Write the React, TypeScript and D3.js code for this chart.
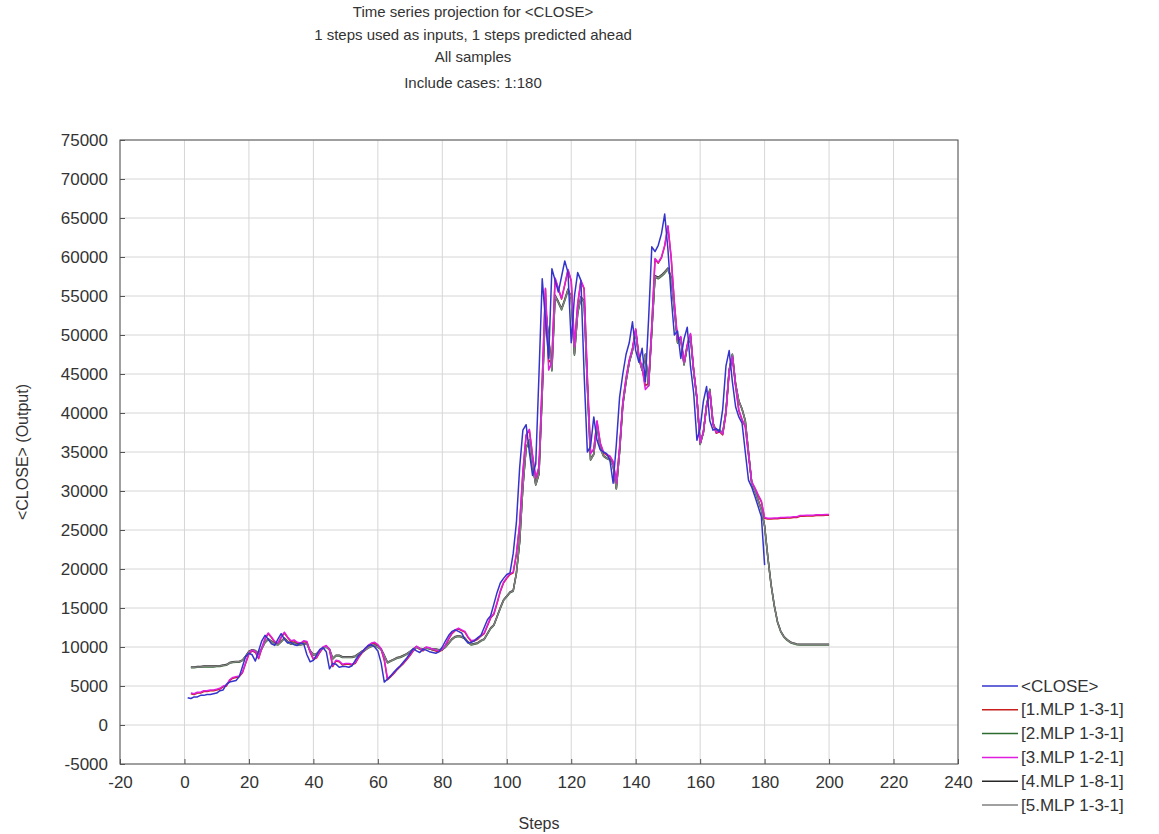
import React, { useRef, useEffect } from "react";
import * as d3 from "d3";

// observed series, step 1..180
const closeValues = [
  3500, 3400, 3600, 3600, 3800, 3800, 3900, 3900, 4000, 4100,
  4400, 4500, 5200, 5500, 5600, 5700, 6200, 7500, 8800, 9200,
  9000, 8200, 9500, 10800, 11500, 11000, 10400, 10200, 11000, 11700,
  11000, 10500, 10600, 10300, 10200, 10500, 10400, 9000, 8100, 8300,
  9000, 9700, 9900, 9400, 7200, 7900, 7800, 7400, 7500, 7500,
  7400, 7600, 8300, 8900, 9300, 9800, 10200, 10300, 10000, 9500,
  8000, 5500, 5900, 6300, 6800, 7200, 7600, 8100, 8600, 9200,
  9800, 9500, 9300, 9700, 9600, 9400, 9300, 9200, 9400, 10000,
  10800, 11500, 12000, 12200, 12000, 11800, 11000, 10500, 10600, 10800,
  11200, 11500, 12500, 13500, 14000, 15500, 17000, 18200, 18800, 19300,
  19500, 22000, 26000, 33000, 37800, 38500, 35000, 32000, 33500, 45000,
  57200, 52000, 47000, 58500, 57000, 55500, 57500, 59500, 58000, 49000,
  55000, 58000, 57000, 45000, 35000, 35700, 39500, 36500, 35300, 35000,
  34800, 34000, 31000, 36000, 42000, 45000, 47500, 49000, 51700, 48000,
  46500, 48300, 44000, 52000, 61300, 60700, 61500, 63000, 65500, 61000,
  55000, 50000, 50500, 47000, 49500, 51000, 46000, 42500, 36500, 38000,
  41500, 43400, 39000, 37800, 38000, 37600, 40500, 46000, 48000, 44000,
  40800, 39500, 38700, 35000, 31400, 30500, 29300, 28000, 26700, 20500,
];

// model outputs, step 2..200
const mlp1Values = [
  4000, 3900, 4100, 4100, 4300, 4300, 4400, 4400, 4500, 4600,
  4900, 5000, 5700, 6000, 6100, 6200, 6700, 7900, 9100, 9500,
  9300, 8500, 9800, 11000, 11700, 11200, 10600, 10400, 11200, 11800,
  11200, 10700, 10800, 10500, 10400, 10700, 10600, 9300, 8400, 8600,
  9300, 9900, 10100, 9600, 7500, 8200, 8100, 7700, 7800, 7800,
  7700, 7900, 8600, 9200, 9600, 10100, 10400, 10500, 10200, 9700,
  8300, 5800, 6200, 6600, 7100, 7500, 7900, 8400, 8900, 9500,
  10000, 9700, 9500, 9900, 9800, 9600, 9500, 9400, 9600, 10200,
  11000, 11700, 12100, 12300, 12100, 11900, 11200, 10700, 10800, 11000,
  11400, 11700, 12700, 13700, 14200, 15600, 17100, 18200, 18800, 19300,
  19500, 21900, 25700, 32400, 37100, 37800, 34500, 31600, 33000, 44100,
  55900, 46500, 47000, 57200, 55900, 54600, 56400, 58300, 56900, 48600,
  53900, 56900, 55900, 44600, 34900, 35300, 38900, 36100, 34900, 34600,
  34400, 33700, 31100, 35500, 41300, 44400, 46700, 48200, 50700, 47200,
  45700, 43500, 43800, 51200, 59700, 59200, 59900, 61400, 63900, 59900,
  54100, 49300, 49700, 46400, 48700, 50100, 45400, 41900, 36100, 37500,
  40900, 42600, 38500, 37400, 37600, 37200, 39900, 45200, 47100, 43400,
  40300, 39100, 38200, 34600, 31100, 30300, 29400, 28600, 26500, 26400,
  26400, 26450, 26450, 26500, 26500, 26550, 26550, 26600, 26600, 26750,
  26750, 26800, 26800, 26800, 26850, 26850, 26850, 26900, 26900,
];

const mlp2Values = [
  7350, 7350, 7400, 7400, 7450, 7450, 7450, 7450, 7500, 7500,
  7600, 7650, 7900, 8000, 8050, 8050, 8250, 8750, 9350, 9550,
  9450, 9050, 9750, 10550, 10950, 10650, 10350, 10250, 10650, 11050,
  10650, 10350, 10450, 10250, 10250, 10350, 10350, 9450, 8950, 9050,
  9450, 9850, 9950, 9650, 8450, 8850, 8850, 8650, 8650, 8650,
  8650, 8750, 9050, 9350, 9550, 9850, 10050, 10150, 9950, 9650,
  8850, 7950, 8150, 8350, 8550, 8650, 8850, 9050, 9350, 9650,
  9950, 9750, 9650, 9850, 9750, 9650, 9650, 9550, 9650, 9950,
  10450, 10950, 11250, 11350, 11250, 11050, 10550, 10250, 10350, 10450,
  10750, 10950, 11650, 12350, 12750, 13850, 14950, 15950, 16450, 16950,
  17150, 19450, 23450, 30450, 35450, 36450, 33150, 30750, 32150, 42450,
  53400, 49400, 45400, 54900, 54100, 53200, 54400, 55700, 54700, 47400,
  52700, 54700, 54200, 43400, 33950, 34650, 38450, 35450, 34450, 34150,
  33950, 33150, 30250, 34950, 40950, 43950, 46450, 47950, 50450, 46950,
  45450, 47450, 43450, 50450, 57400, 57200, 57500, 57900, 58400, 57200,
  53200, 48950, 49350, 46150, 48450, 49750, 45250, 41750, 35950, 37450,
  40950, 42950, 38650, 37550, 37750, 37350, 40150, 45450, 47450, 43650,
  41450, 40450, 38950, 34950, 30950, 29950, 28750, 27550, 25450, 21450,
  17950, 15250, 13150, 11950, 11250, 10850, 10550, 10400, 10300, 10250,
  10250, 10250, 10250, 10250, 10250, 10250, 10250, 10250, 10250,
];

const mlp3Values = [
  4100, 4000, 4200, 4200, 4400, 4400, 4500, 4500, 4600, 4700,
  5000, 5100, 5800, 6100, 6200, 6300, 6800, 8000, 9200, 9600,
  9400, 8600, 9900, 11100, 11800, 11300, 10700, 10500, 11300, 11900,
  11300, 10800, 10900, 10600, 10500, 10800, 10700, 9400, 8500, 8700,
  9400, 10000, 10200, 9700, 7600, 8300, 8200, 7800, 7900, 7900,
  7800, 8000, 8700, 9300, 9700, 10200, 10500, 10600, 10300, 9800,
  8400, 5900, 6300, 6700, 7200, 7600, 8000, 8500, 9000, 9600,
  10100, 9800, 9600, 10000, 9900, 9700, 9600, 9500, 9700, 10300,
  11100, 11800, 12200, 12400, 12200, 12000, 11300, 10800, 10900, 11100,
  11500, 11800, 12800, 13800, 14300, 15700, 17200, 18300, 18900, 19400,
  19600, 22000, 25800, 32500, 37200, 37900, 34600, 31700, 33100, 44200,
  56000, 45500, 46500, 57300, 56000, 54700, 56500, 58400, 57000, 48500,
  54000, 57000, 56000, 44500, 34800, 35400, 39000, 36200, 35000, 34700,
  34500, 33800, 31000, 35600, 41400, 44500, 46800, 48300, 50800, 47300,
  45800, 43000, 43500, 51300, 59800, 59300, 60000, 61500, 64000, 60000,
  54200, 49400, 49800, 46500, 48800, 50200, 45500, 42000, 36200, 37600,
  41000, 42700, 38600, 37500, 37700, 37300, 40000, 45300, 47200, 43500,
  40400, 39200, 38300, 34700, 31200, 30400, 29500, 28700, 26600, 26500,
  26500, 26550, 26550, 26600, 26600, 26650, 26650, 26700, 26700, 26850,
  26850, 26900, 26900, 26900, 26950, 26950, 26950, 27000, 27000,
];

const mlp4Values = [
  7450, 7450, 7500, 7500, 7550, 7550, 7550, 7550, 7600, 7600,
  7700, 7750, 8000, 8100, 8150, 8150, 8350, 8850, 9450, 9650,
  9550, 9150, 9850, 10650, 11050, 10750, 10450, 10350, 10750, 11150,
  10750, 10450, 10550, 10350, 10350, 10450, 10450, 9550, 9050, 9150,
  9550, 9950, 10050, 9750, 8550, 8950, 8950, 8750, 8750, 8750,
  8750, 8850, 9150, 9450, 9650, 9950, 10150, 10250, 10050, 9750,
  8950, 8050, 8250, 8450, 8650, 8750, 8950, 9150, 9450, 9750,
  10050, 9850, 9750, 9950, 9850, 9750, 9750, 9650, 9750, 10050,
  10550, 11050, 11350, 11450, 11350, 11150, 10650, 10350, 10450, 10550,
  10850, 11050, 11750, 12450, 12850, 13950, 15050, 16050, 16550, 17050,
  17250, 19550, 23550, 30550, 35550, 36550, 33250, 30850, 32250, 42550,
  53600, 49600, 45600, 55100, 54300, 53400, 54600, 55900, 54900, 47600,
  52900, 54900, 54400, 43600, 34050, 34750, 38550, 35550, 34550, 34250,
  34050, 33250, 30350, 35050, 41050, 44050, 46550, 48050, 50550, 47050,
  45550, 47550, 43550, 50550, 57600, 57400, 57700, 58100, 58600, 57400,
  53400, 49050, 49450, 46250, 48550, 49850, 45350, 41850, 36050, 37550,
  41050, 43050, 38750, 37650, 37850, 37450, 40250, 45550, 47550, 43750,
  41550, 40550, 39050, 35050, 31050, 30050, 28850, 27650, 25550, 21550,
  18050, 15350, 13250, 12050, 11350, 10950, 10650, 10500, 10400, 10350,
  10350, 10350, 10350, 10350, 10350, 10350, 10350, 10350, 10350,
];

const mlp5Values = [
  7400, 7400, 7450, 7450, 7500, 7500, 7500, 7500, 7550, 7550,
  7650, 7700, 7950, 8050, 8100, 8100, 8300, 8800, 9400, 9600,
  9500, 9100, 9800, 10600, 11000, 10700, 10400, 10300, 10700, 11100,
  10700, 10400, 10500, 10300, 10300, 10400, 10400, 9500, 9000, 9100,
  9500, 9900, 10000, 9700, 8500, 8900, 8900, 8700, 8700, 8700,
  8700, 8800, 9100, 9400, 9600, 9900, 10100, 10200, 10000, 9700,
  8900, 8000, 8200, 8400, 8600, 8700, 8900, 9100, 9400, 9700,
  10000, 9800, 9700, 9900, 9800, 9700, 9700, 9600, 9700, 10000,
  10500, 11000, 11300, 11400, 11300, 11100, 10600, 10300, 10400, 10500,
  10800, 11000, 11700, 12400, 12800, 13900, 15000, 16000, 16500, 17000,
  17200, 19500, 23500, 30500, 35500, 36500, 33200, 30800, 32200, 42500,
  53500, 49500, 45500, 55000, 54200, 53300, 54500, 55800, 54800, 47500,
  52800, 54800, 54300, 43500, 34000, 34700, 38500, 35500, 34500, 34200,
  34000, 33200, 30300, 35000, 41000, 44000, 46500, 48000, 50500, 47000,
  45500, 47500, 43500, 50500, 57500, 57300, 57600, 58000, 58500, 57300,
  53300, 49000, 49400, 46200, 48500, 49800, 45300, 41800, 36000, 37500,
  41000, 43000, 38700, 37600, 37800, 37400, 40200, 45500, 47500, 43700,
  41500, 40500, 39000, 35000, 31000, 30000, 28800, 27600, 25500, 21500,
  18000, 15300, 13200, 12000, 11300, 10900, 10600, 10450, 10350, 10300,
  10300, 10300, 10300, 10300, 10300, 10300, 10300, 10300, 10300,
];

const seriesNames = ["<CLOSE>", "[1.MLP 1-3-1]", "[2.MLP 1-3-1]", "[3.MLP 1-2-1]", "[4.MLP 1-8-1]", "[5.MLP 1-3-1]"];
const seriesColors = ["#3434cc", "#c81e1e", "#2e6b2e", "#e01ee0", "#262626", "#808080"];
const seriesStart = [1, 2, 2, 2, 2, 2];
const seriesValues = [closeValues, mlp1Values, mlp2Values, mlp3Values, mlp4Values, mlp5Values];
const drawOrder = [1, 2, 4, 5, 3, 0];

const xTicks = [-20, 0, 20, 40, 60, 80, 100, 120, 140, 160, 180, 200, 220, 240];
const yTicks = [-5000, 0, 5000, 10000, 15000, 20000, 25000, 30000, 35000, 40000, 45000, 50000, 55000, 60000, 65000, 70000, 75000];

const titleLines = [
  "Time series projection for <CLOSE>",
  "1 steps used as inputs, 1 steps predicted ahead",
  "All samples",
  "Include cases: 1:180",
];

function App() {
  const svgRef = useRef(null);

  useEffect(() => {
    const width = 1159, height = 834;
    const margin = { top: 140, right: 201, bottom: 70, left: 120 };
    const font = "'Liberation Sans', Arial, sans-serif";
    const textColor = "#333";

    const svg = d3.select(svgRef.current);
    svg.selectAll("*").remove();
    svg.attr("width", width).attr("height", height);

    svg.append("rect").attr("width", width).attr("height", height).attr("fill", "#fff");

    const xScale = d3.scaleLinear()
      .domain([-20, 240])
      .range([margin.left, width - margin.right]);
    const yScale = d3.scaleLinear()
      .domain([-5000, 75000])
      .range([height - margin.bottom, margin.top]);

    const [x0, x1] = xScale.range();
    const [y0, y1] = yScale.range();

    // grid
    svg.append("g")
      .selectAll("line")
      .data(xTicks)
      .join("line")
        .attr("x1", d => xScale(d)).attr("x2", d => xScale(d))
        .attr("y1", y1).attr("y2", y0)
        .attr("stroke", "#d6d6d6");
    svg.append("g")
      .selectAll("line")
      .data(yTicks)
      .join("line")
        .attr("x1", x0).attr("x2", x1)
        .attr("y1", d => yScale(d)).attr("y2", d => yScale(d))
        .attr("stroke", "#d6d6d6");

    // lines
    const line = d3.line()
      .x(d => xScale(d[0]))
      .y(d => yScale(d[1]));

    drawOrder.forEach(i => {
      const pts = seriesValues[i].map((v, k) => [seriesStart[i] + k, v]);
      svg.append("path")
        .datum(pts)
        .attr("d", line)
        .attr("fill", "none")
        .attr("stroke", seriesColors[i])
        .attr("stroke-width", 1.5)
        .attr("stroke-linejoin", "round");
    });

    // axes
    const xAxis = d3.axisBottom(xScale).tickValues(xTicks).tickSize(-5).tickPadding(12).tickFormat(d => String(d));
    const yAxis = d3.axisLeft(yScale).tickValues(yTicks).tickSize(-5).tickPadding(12).tickFormat(d => String(d));

    const gx = svg.append("g").attr("transform", `translate(0,${y0})`).call(xAxis);
    const gy = svg.append("g").attr("transform", `translate(${x0},0)`).call(yAxis);
    [gx, gy].forEach(g => {
      g.select(".domain").remove();
      g.selectAll(".tick line").attr("stroke", "#555");
      g.selectAll(".tick text")
        .attr("fill", textColor)
        .style("font-family", font)
        .style("font-size", "17px");
    });

    svg.append("rect")
      .attr("x", x0).attr("y", y1)
      .attr("width", x1 - x0).attr("height", y0 - y1)
      .attr("fill", "none")
      .attr("stroke", "#555");

    // titles
    svg.append("g")
      .selectAll("text")
      .data(titleLines)
      .join("text")
        .attr("x", 473)
        .attr("y", (d, i) => [17, 40, 62, 88][i])
        .attr("text-anchor", "middle")
        .attr("fill", textColor)
        .style("font-family", font)
        .style("font-size", "15px")
        .text(d => d);

    svg.append("text")
      .attr("transform", `translate(22,${(y0 + y1) / 2}) rotate(-90)`)
      .attr("text-anchor", "middle")
      .attr("dominant-baseline", "central")
      .attr("fill", textColor)
      .style("font-family", font)
      .style("font-size", "16px")
      .text("<CLOSE> (Output)");

    svg.append("text")
      .attr("x", (x0 + x1) / 2)
      .attr("y", 829)
      .attr("text-anchor", "middle")
      .attr("fill", textColor)
      .style("font-family", font)
      .style("font-size", "16px")
      .text("Steps");

    // legend
    const legend = svg.append("g")
      .selectAll("g")
      .data(seriesNames)
      .join("g")
        .attr("transform", (d, i) => `translate(982,${686 + i * 23.8})`);
    legend.append("line")
      .attr("x1", 0).attr("x2", 36)
      .attr("stroke", (d, i) => seriesColors[i])
      .attr("stroke-width", 1.5);
    legend.append("text")
      .attr("x", 39)
      .attr("dominant-baseline", "central")
      .attr("fill", textColor)
      .style("font-family", font)
      .style("font-size", "17px")
      .text(d => d);
  }, []);

  return (
    <div style={{ position: "absolute", left: 0, top: 0 }}>
      <svg ref={svgRef}></svg>
    </div>
  );
}

export default App;
